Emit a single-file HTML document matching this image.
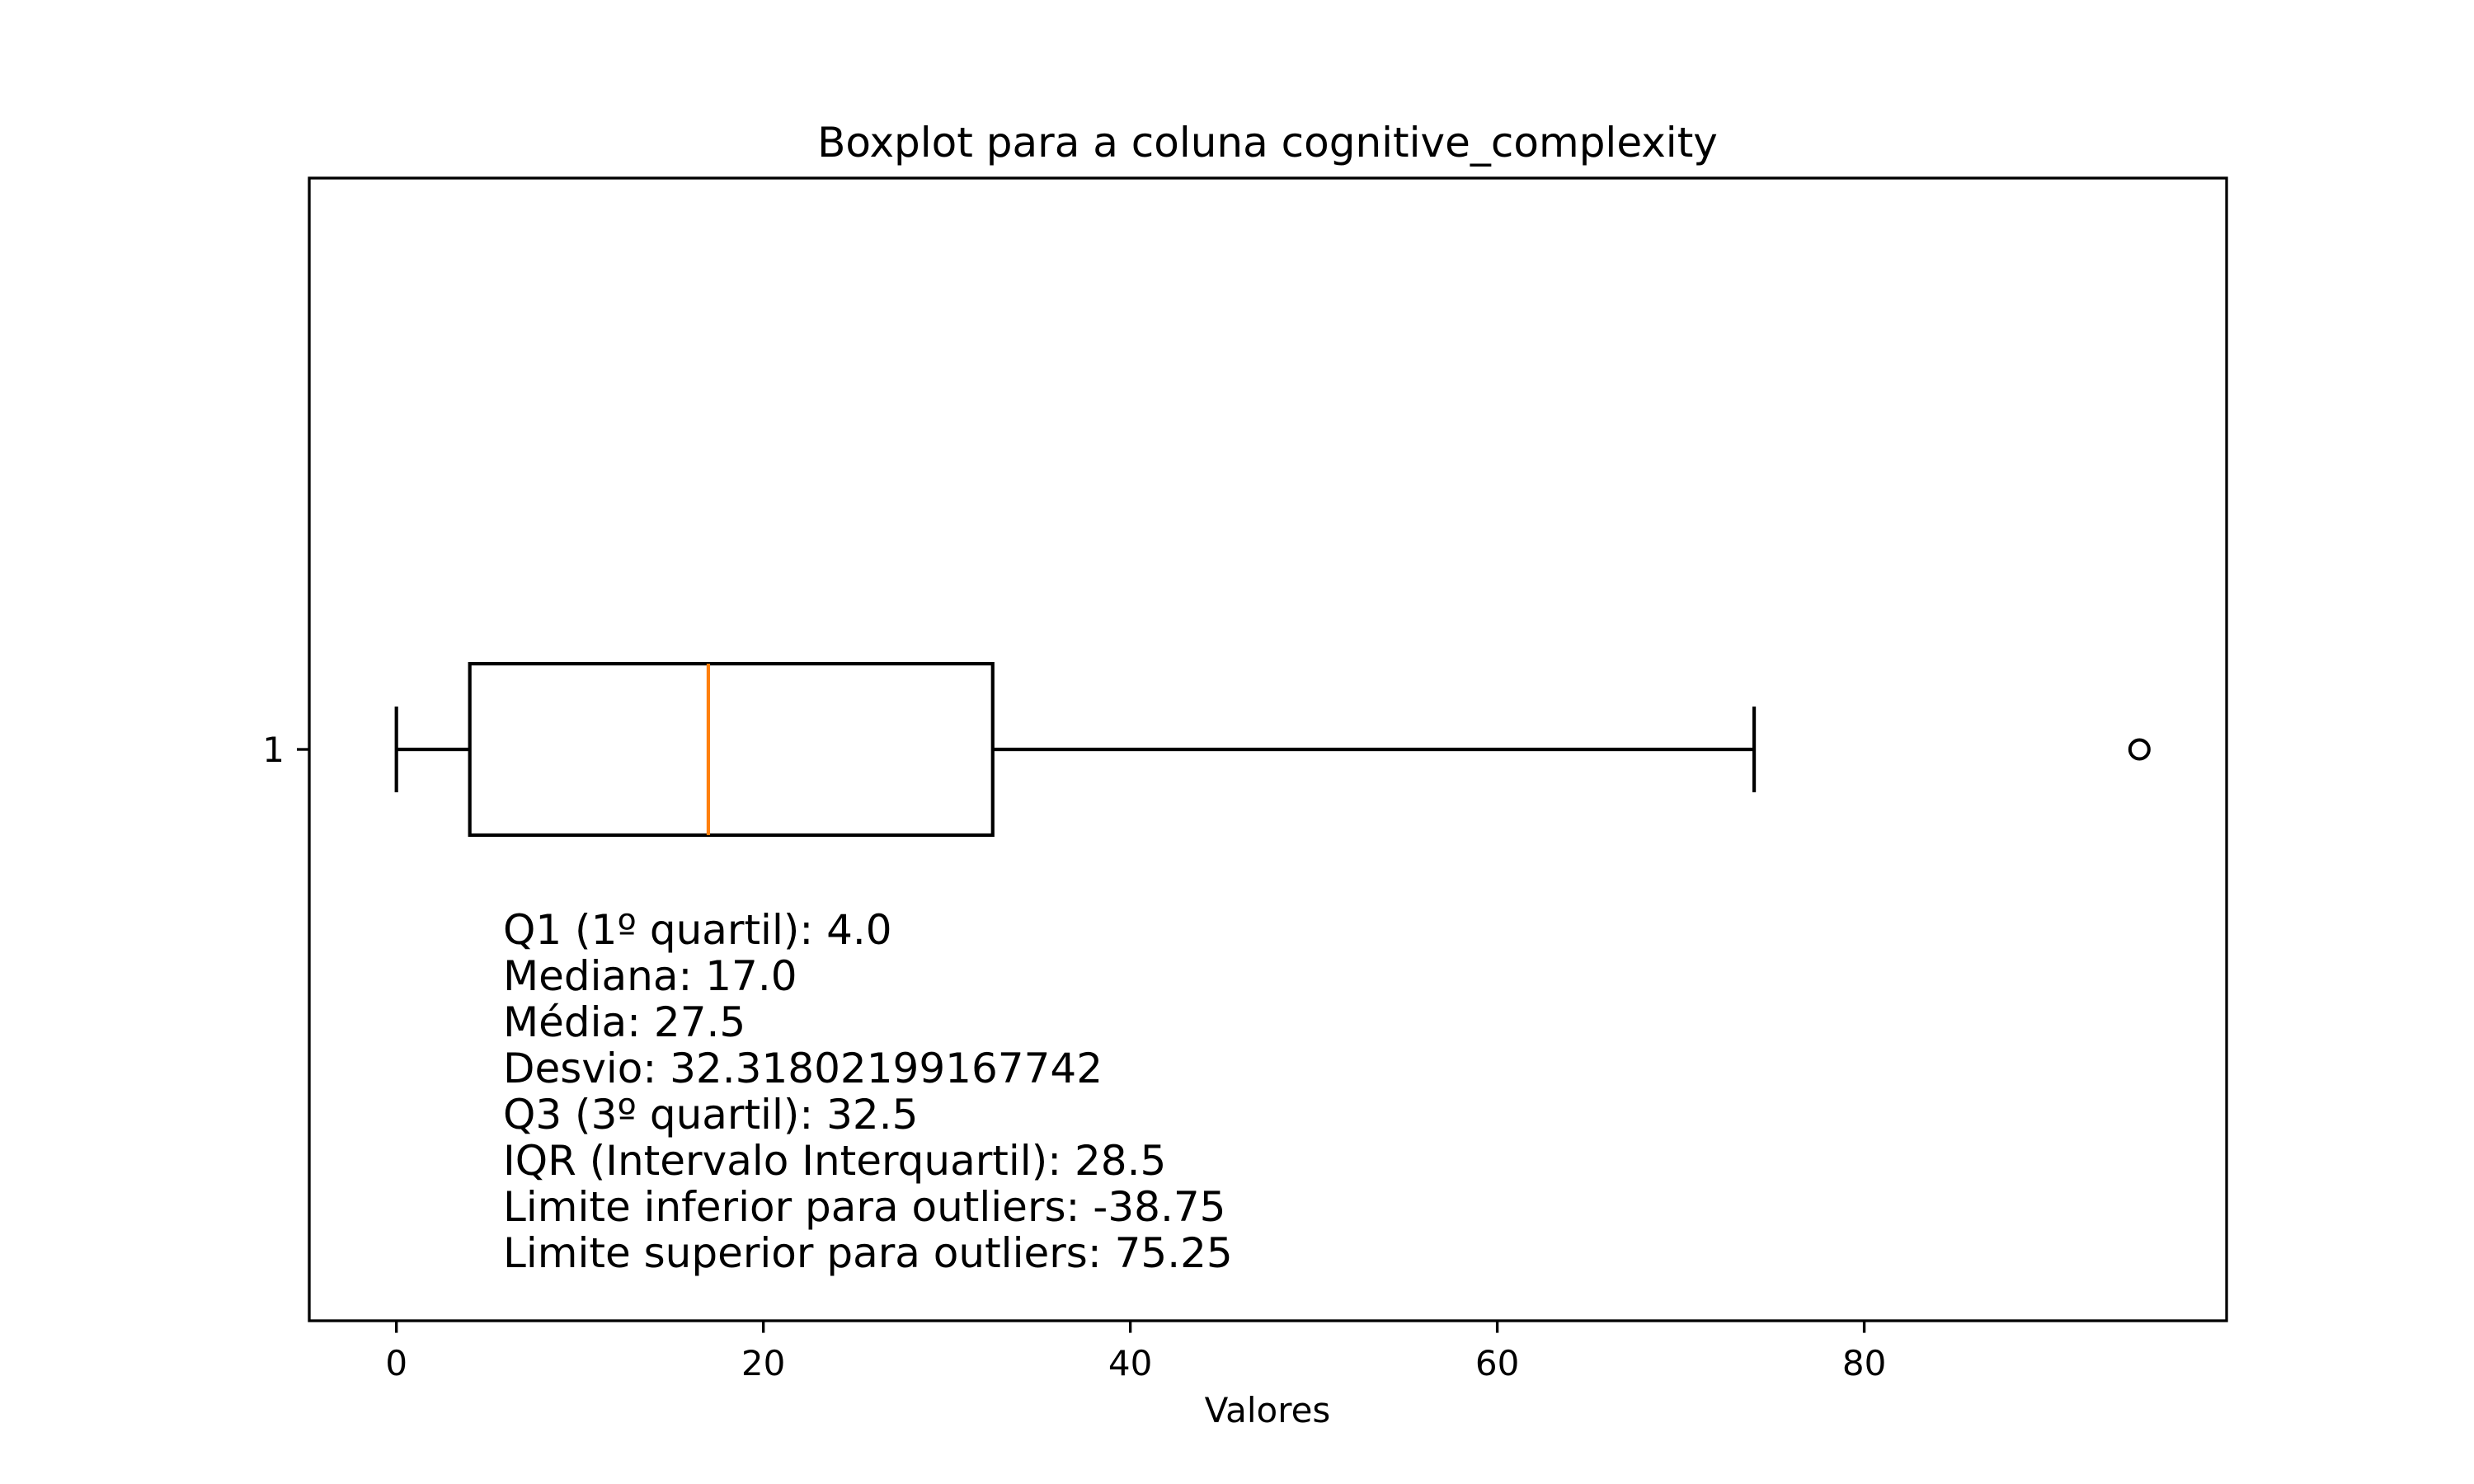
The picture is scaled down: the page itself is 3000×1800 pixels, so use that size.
<!DOCTYPE html>
<html><head><meta charset="utf-8"><style>
html,body{margin:0;padding:0;background:#fff;}
svg{display:block;font-family:"DejaVu Sans","Liberation Sans",sans-serif;}
</style></head><body>
<svg id="chart" width="3000" height="1800" viewBox="0 0 3000 1800" xmlns="http://www.w3.org/2000/svg">
<rect width="3000" height="1800" fill="#fff"/>
<text x="1537" y="190" font-size="50" text-anchor="middle">Boxplot para a coluna cognitive_complexity</text>
<g id="plot"></g>
<rect x="375" y="216" width="2325" height="1386" fill="none" stroke="#000" stroke-width="3.33"/>
<text x="1537" y="1725" font-size="42" text-anchor="middle">Valores</text>
<text x="345" y="924" font-size="42" text-anchor="end">1</text>
<line x1="360" x2="375" y1="909" y2="909" stroke="#000" stroke-width="3.33"/>
<g font-size="50">
<text x="610" y="1145">Q1 (1º quartil): 4.0</text>
<text x="610" y="1201">Mediana: 17.0</text>
<text x="610" y="1257">Média: 27.5</text>
<text x="610" y="1313">Desvio: 32.31802199167742</text>
<text x="610" y="1369">Q3 (3º quartil): 32.5</text>
<text x="610" y="1425">IQR (Intervalo Interquartil): 28.5</text>
<text x="610" y="1481">Limite inferior para outliers: -38.75</text>
<text x="610" y="1537">Limite superior para outliers: 75.25</text>
</g>
</svg>
<script>
const xTicks = [0, 20, 40, 60, 80];
const whiskerLow = [0];
const q1 = [4];
const median = [17];
const q3 = [32.5];
const whiskerHigh = [74];
const outliers = [95];

const NS = "http://www.w3.org/2000/svg";
const svg = document.getElementById('chart');
const g = document.getElementById('plot');
const xMin = -4.75, xMax = 99.75, L = 375, R = 2700;
const yMin = 0.5, yMax = 1.5, T = 216, B = 1602;
const sx = v => L + (v - xMin) / (xMax - xMin) * (R - L);
const sy = v => B - (v - yMin) / (yMax - yMin) * (B - T);
function mk(tag, attrs, parent) {
  const el = document.createElementNS(NS, tag);
  for (const k in attrs) el.setAttribute(k, attrs[k]);
  (parent || g).appendChild(el);
  return el;
}
const lw = 4.17;
const yc = 1, halfW = 0.075, capW = 0.0375;
let el;
el = mk('line', {x1: sx(whiskerLow[0]), x2: sx(q1[0]), y1: sy(yc), y2: sy(yc), stroke: '#000', 'stroke-width': lw});


el = mk('line', {x1: sx(q3[0]), x2: sx(whiskerHigh[0]), y1: sy(yc), y2: sy(yc), stroke: '#000', 'stroke-width': lw});


el = mk('line', {x1: sx(whiskerLow[0]), x2: sx(whiskerLow[0]), y1: sy(yc + capW), y2: sy(yc - capW), stroke: '#000', 'stroke-width': lw});


el = mk('line', {x1: sx(whiskerHigh[0]), x2: sx(whiskerHigh[0]), y1: sy(yc + capW), y2: sy(yc - capW), stroke: '#000', 'stroke-width': lw});


el = mk('rect', {x: sx(q1[0]), y: sy(yc + halfW), width: sx(q3[0]) - sx(q1[0]), height: sy(yc - halfW) - sy(yc + halfW), fill: 'none', stroke: '#000', 'stroke-width': lw});


el = mk('line', {x1: sx(median[0]), x2: sx(median[0]), y1: sy(yc + halfW), y2: sy(yc - halfW), stroke: '#ff7f0e', 'stroke-width': lw});


outliers.forEach(v => {
  const c = mk('circle', {cx: sx(v), cy: sy(yc), r: 11.5, fill: 'none', stroke: '#000', 'stroke-width': 4});
  
  
});
xTicks.forEach(v => {
  const t = mk('line', {x1: sx(v), x2: sx(v), y1: B, y2: B + 14.6, stroke: '#000', 'stroke-width': 3.33}, svg);
  
  
  const lb = mk('text', {x: sx(v), y: B + 66, 'font-size': 42, 'text-anchor': 'middle'}, svg);
  lb.textContent = String(v);
  
  
});
</script>
</body></html>
